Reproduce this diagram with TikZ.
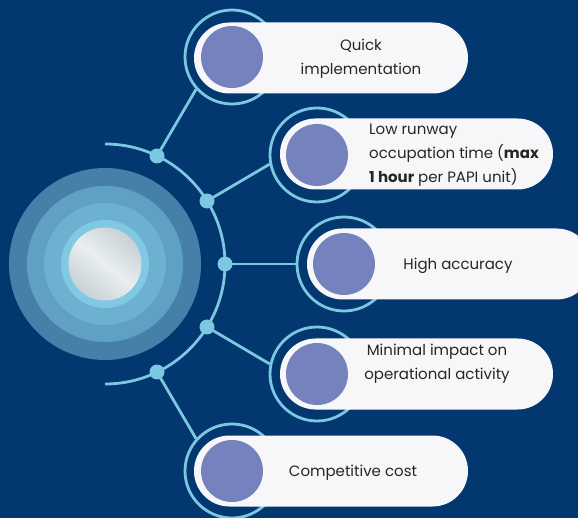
\documentclass[tikz,border=0pt]{standalone}
\usepackage{fontspec}
\setmainfont{Poppins}
\definecolor{navy}{HTML}{023770}
\definecolor{pillc}{HTML}{F7F7FA}
\definecolor{purp}{HTML}{7582BE}
\definecolor{lblue}{HTML}{7CC7E1}
\definecolor{ringA}{HTML}{4680A8}
\definecolor{ringB}{HTML}{5FA0C3}
\definecolor{ringC}{HTML}{6CB1CF}
\definecolor{ringD}{HTML}{81C8E2}
\definecolor{silverA}{HTML}{C8D1D6}
\definecolor{silverB}{HTML}{E9EEF0}
\definecolor{textc}{HTML}{262626}
\begin{document}
\begin{tikzpicture}[x=1pt,y=-1pt,
  pill/.style={rectangle, rounded corners=35.5pt, fill=pillc, minimum height=71pt, inner sep=0pt},
  ringnode/.style={circle, draw=lblue, line width=2.8pt, minimum size=94pt, inner sep=0pt},
  purpnode/.style={circle, fill=purp, minimum size=62pt, inner sep=0pt},
  dotnode/.style={circle, fill=lblue, minimum size=15pt, inner sep=0pt},
  conn/.style={draw=lblue, line width=2.8pt},
  txt/.style={font=\fontsize{15}{24}\selectfont, text=textc, align=center, inner sep=0pt},
  disc/.style={circle, inner sep=0pt}]
\clip (0,0) rectangle (578,518);
\fill[navy] (0,0) rectangle (578,518);
% central target
\node[disc, fill=ringA, minimum size=192pt] (hubA) at (105,264) {};
\node[disc, fill=ringB, minimum size=156pt] (hubB) at (105,264) {};
\node[disc, fill=ringC, minimum size=122pt] (hubC) at (105,264) {};
\node[disc, fill=ringD, minimum size=88pt] (hubD) at (105,264) {};
\node[disc, minimum size=73pt, left color=silverA, right color=silverA, middle color=silverB, shading angle=-40] (hub) at (105,264) {};
% arc
\draw[conn] (105,144) arc[start angle=-90, end angle=90, radius=120];
% dots
\node[dotnode] (d1) at (157,156) {};
\node[dotnode] (d2) at (207,201) {};
\node[dotnode] (d3) at (225,264) {};
\node[dotnode] (d4) at (207,327) {};
\node[dotnode] (d5) at (157,372) {};
% rings
\node[ringnode] (r1) at (232,57) {};
\node[ringnode] (r2) at (317,155) {};
\node[ringnode] (r3) at (344,264) {};
\node[ringnode] (r4) at (317,374) {};
\node[ringnode] (r5) at (232,471) {};
% connectors
\draw[conn] (d1.center) -- (r1.222);
\draw[conn] (d2.center) -- (r2.191);
\draw[conn] (d3.center) -- (r3.west);
\draw[conn] (d4.center) -- (r4.168);
\draw[conn] (d5.center) -- (r5.138);
% pills
\node[pill, minimum width=274pt] (p1) at (331,58) {};
\node[pill, minimum width=273pt] (p2) at (416.5,154) {};
\node[pill, minimum width=285pt] (p3) at (449.5,264) {};
\node[pill, minimum width=273pt] (p4) at (416.5,374) {};
\node[pill, minimum width=274pt] (p5) at (331,471) {};
% purple discs
\node[purpnode] (q1) at (232,57) {};
\node[purpnode] (q2) at (317,155) {};
\node[purpnode] (q3) at (344,264) {};
\node[purpnode] (q4) at (317,374) {};
\node[purpnode] (q5) at (232,471) {};
% texts
\node[txt] (t1) at (361,58.5) {Quick\\implementation};
\node[txt, anchor=west, align=left] (t2) at (369,155.5) {Low runway\\occupation time (\textbf{max}\\\textbf{1 hour} per PAPI unit)};
\node[txt] (t3) at (458,265.5) {High accuracy};
\node[txt] (t4) at (437,363.5) {Minimal impact on\\operational activity};
\node[txt] (t5) at (353,472.5) {Competitive cost};
\end{tikzpicture}
\end{document}
